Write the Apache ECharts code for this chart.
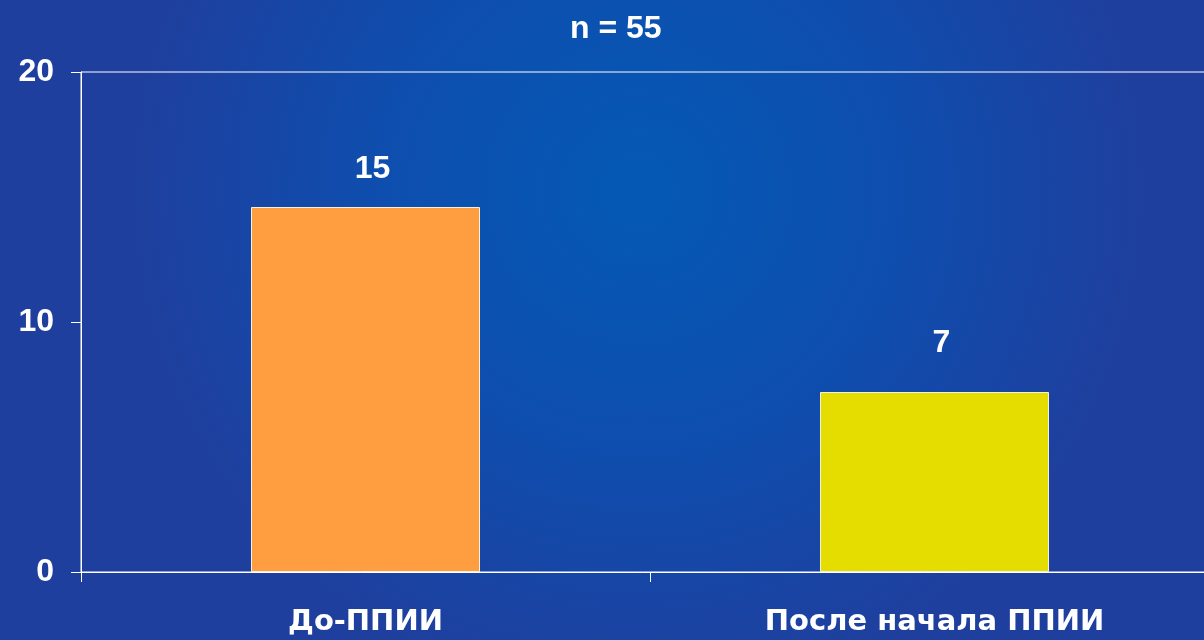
<!DOCTYPE html>
<html>
<head>
<meta charset="utf-8">
<script src="https://cdn.jsdelivr.net/npm/echarts@6/dist/echarts.min.js"></script>
<style>
html,body{margin:0;padding:0;background:#123f9f;}
#chart{width:1204px;height:640px;}
</style>
</head>
<body>
<div id="chart"></div>
<script>
// ---- data ----
var titleText = 'n = 55';
var categories = ['До-ППИИ', 'После начала ППИИ'];
var values = [14.6, 7.2];
var valueLabels = ['15', '7'];
var barColors = ['#FF9E40', '#E5DC00'];
var yTicks = [0, 10, 20];

// ---- style ----
var labelDistances = [22, 33];
var numFont = '"Liberation Sans", Arial, sans-serif';
var catFont = '"DejaVu Sans", sans-serif';

var chart = echarts.init(document.getElementById('chart'), null, {renderer: 'canvas'});
var option = {
  animation: false,
  backgroundColor: {
    type: 'radial', x: 0.53, y: 0.3, r: 0.8,
    colorStops: [
      {offset: 0, color: '#0459b5'},
      {offset: 0.5, color: '#0e4eae'},
      {offset: 1, color: '#1f3f9e'}
    ]
  },
  title: {
    text: titleText,
    left: 565, top: 8,
    textStyle: {color: '#fff', fontSize: 32, fontWeight: 'bold', fontFamily: numFont}
  },
  grid: {
    left: 81, top: 72, width: 1138, height: 500,
    containLabel: false,
    outerBoundsMode: 'none',
    show: true, borderColor: '#ffffff', borderWidth: 1, backgroundColor: 'transparent'
  },
  xAxis: {
    type: 'category',
    data: categories,
    axisLine: {show: true, lineStyle: {color: '#fff', width: 1}},
    axisTick: {show: true, length: 10, lineStyle: {color: '#fff'}},
    axisLabel: {color: '#fff', fontSize: 29, fontWeight: 'bold', fontFamily: catFont, margin: 36}
  },
  yAxis: {
    type: 'value',
    min: yTicks[0], max: yTicks[yTicks.length - 1], interval: yTicks[1] - yTicks[0],
    axisLine: {show: true, lineStyle: {color: '#fff', width: 1}},
    axisTick: {show: true, length: 10, lineStyle: {color: '#fff'}},
    splitLine: {show: false},
    axisLabel: {color: '#fff', fontSize: 32, fontWeight: 'bold', fontFamily: numFont, margin: 27}
  },
  series: [{
    type: 'bar',
    barWidth: 229,
    data: values.map(function (v, i) {
      return {
        value: v,
        itemStyle: {color: barColors[i], borderColor: '#f4f0e0', borderWidth: 1},
        label: {distance: labelDistances[i]}
      };
    }),
    label: {
      show: true, position: 'top', offset: [7, 0],
      color: '#fff', fontSize: 32, fontWeight: 'bold', fontFamily: numFont,
      formatter: function (p) { return valueLabels[p.dataIndex]; }
    }
  }]
};
chart.setOption(option);
</script>
</body>
</html>
